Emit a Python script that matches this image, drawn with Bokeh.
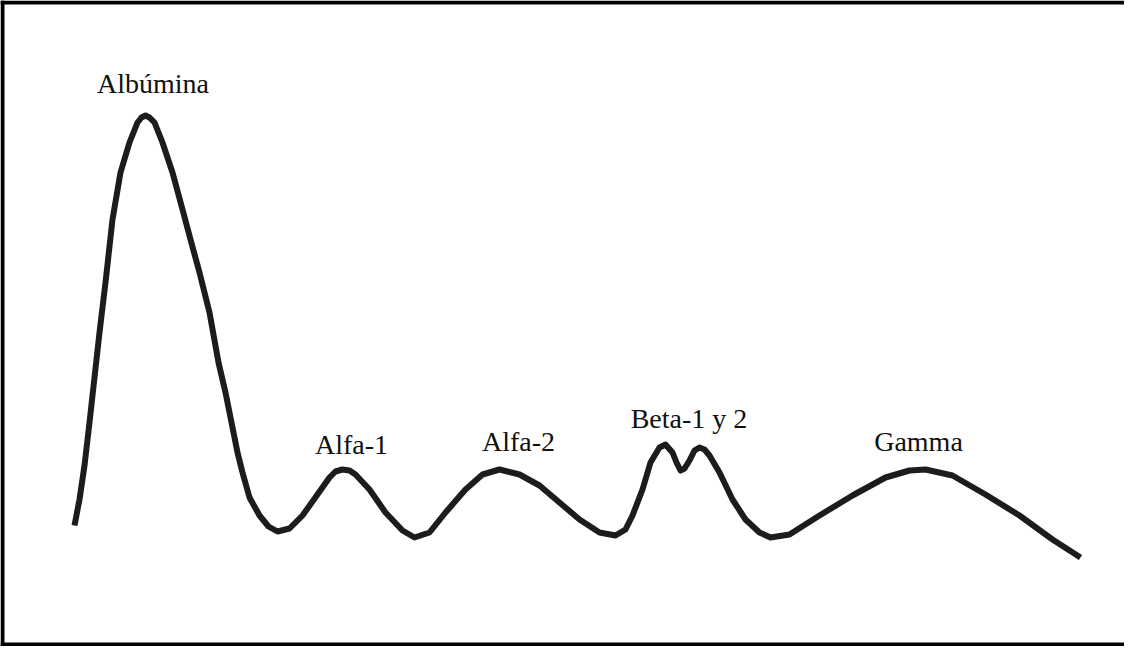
from bokeh.plotting import figure
from bokeh.models import Range1d, Span, ColumnDataSource
from bokeh.core.properties import value
from bokeh.embed import file_html
from bokeh.resources import INLINE

# Electrophoresis trace (migration distance, relative intensity)
trace_x = [74, 79, 84, 89, 94, 99, 105, 112, 120, 129, 137, 141, 145, 149, 154, 162,
           172, 182, 190, 199, 209, 218, 225, 231, 237, 242, 249, 259, 268, 277,
           289, 302, 312, 329, 335, 342, 349, 355, 369, 385, 402, 414,
           429, 445, 465, 482, 499, 519, 539, 559, 579, 599, 615,
           625, 632, 642, 650, 659, 665, 672, 676, 680, 684, 689, 694,
           699, 704, 709, 719, 732, 745, 759, 770, 789, 819, 852,
           885, 909, 925, 952, 985, 1019, 1052, 1080]
trace_y = [121, 147, 181, 224, 269, 314, 364, 427, 474, 504, 524, 529, 531, 529, 524, 504,
           474, 437, 407, 374, 334, 284, 254, 224, 194, 174, 149, 131, 120, 115,
           118, 131, 145, 169, 175, 177, 176, 172, 157, 134, 116, 109,
           114, 134, 157, 172, 177, 172, 161, 144, 127, 114, 111,
           117, 131, 157, 184, 199, 202, 194, 184, 176, 178, 186, 196,
           199, 197, 191, 174, 147, 127, 114, 109, 112, 131, 151,
           169, 176, 177, 171, 152, 131, 107, 89]

# Fraction labels
label_names = ["Albúmina", "Alfa-1", "Alfa-2", "Beta-1 y 2", "Gamma"]
label_x = [152.5, 351, 518, 688.5, 918]
label_y = [563, 202, 205, 228, 205]

W, H = 1124, 646
p = figure(width=W, height=H, output_backend="svg", toolbar_location=None,
           x_range=Range1d(0, W), y_range=Range1d(0, H),
           min_border=0, outline_line_color=None,
           background_fill_color="white", border_fill_color="white")
p.xaxis.visible = False
p.yaxis.visible = False
p.grid.visible = False

src = ColumnDataSource(dict(x=trace_x, y=trace_y))
p.line("x", "y", source=src, line_color="#1e1b1c", line_width=6,
       line_join="round", line_cap="butt")

lsrc = ColumnDataSource(dict(x=label_x, y=label_y, t=label_names))
p.text("x", "y", text="t", source=lsrc, text_font=value("Liberation Serif"),
       text_font_size="28px", text_align="center", text_baseline="alphabetic",
       text_color="#111111")

# frame lines (left, top, bottom)
p.add_layout(Span(location=2, dimension="height", line_color="black", line_width=4))
p.add_layout(Span(location=H - 2, dimension="width", line_color="black", line_width=4))
p.add_layout(Span(location=2, dimension="width", line_color="black", line_width=4))

open("out.html", "w").write(file_html(p, INLINE))
